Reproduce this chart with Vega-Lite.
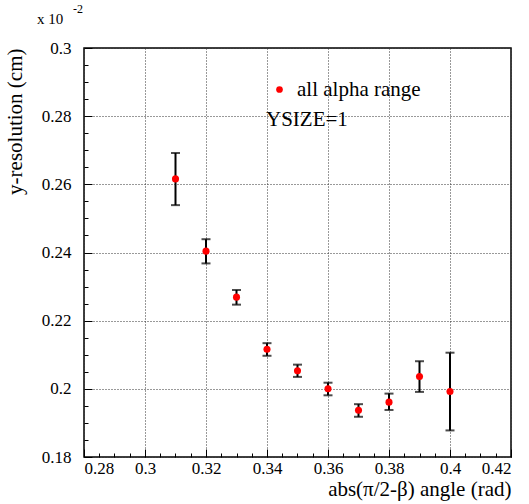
{
  "$schema": "https://vega.github.io/schema/vega-lite/v6.json",
  "width": 427,
  "height": 409,
  "autosize": "none",
  "padding": {"left": 84, "top": 48, "right": 18, "bottom": 47},
  "background": "white",
  "config": {
    "font": "Liberation Serif",
    "view": {"stroke": "black", "strokeWidth": 1.5},
    "style": {
      "guide-label": {"font": "Liberation Serif", "fill": "black"},
      "guide-title": {"font": "Liberation Serif", "fill": "black"}
    },
    "axis": {"labelFont": "Liberation Serif", "titleFont": "Liberation Serif"}
  },
  "title": {
    "text": "x 10",
    "subtitle": "\u2800\u2800\u2800\u2800-2",
    "anchor": "start",
    "frame": "group",
    "dx": -47,
    "font": "Liberation Serif",
    "fontSize": 15,
    "fontWeight": "normal",
    "color": "black",
    "subtitleFont": "Liberation Serif",
    "subtitleFontSize": 12,
    "subtitleColor": "black",
    "subtitlePadding": -23,
    "offset": 3
  },
  "data": {
    "values": [
      {"x": 0.31, "y": 0.2616, "lo": 0.2539, "hi": 0.2692, "series": "all alpha range"},
      {"x": 0.32, "y": 0.2404, "lo": 0.2368, "hi": 0.2439, "series": "all alpha range"},
      {"x": 0.33, "y": 0.2269, "lo": 0.2247, "hi": 0.2290, "series": "all alpha range"},
      {"x": 0.34, "y": 0.2116, "lo": 0.2097, "hi": 0.2134, "series": "all alpha range"},
      {"x": 0.35, "y": 0.2053, "lo": 0.2035, "hi": 0.2071, "series": "all alpha range"},
      {"x": 0.36, "y": 0.2000, "lo": 0.1981, "hi": 0.2018, "series": "all alpha range"},
      {"x": 0.37, "y": 0.1937, "lo": 0.1918, "hi": 0.1955, "series": "all alpha range"},
      {"x": 0.38, "y": 0.1961, "lo": 0.1938, "hi": 0.1986, "series": "all alpha range"},
      {"x": 0.39, "y": 0.2036, "lo": 0.1991, "hi": 0.2081, "series": "all alpha range"},
      {"x": 0.40, "y": 0.1992, "lo": 0.1878, "hi": 0.2106, "series": "all alpha range"}
    ]
  },
  "layer": [
    {
      "mark": {"type": "rule", "color": "black", "strokeWidth": 2},
      "encoding": {
        "x": {
          "field": "x", "type": "quantitative",
          "scale": {"domain": [0.28, 0.42], "nice": false, "zero": false},
          "axis": {
            "orient": "bottom",
            "offset": -4,
            "values": [0.285, 0.29, 0.295, 0.305, 0.31, 0.315, 0.325, 0.33, 0.335, 0.345, 0.35, 0.355, 0.365, 0.37, 0.375, 0.385, 0.39, 0.395, 0.405, 0.41, 0.415],
            "labels": false, "grid": false, "domain": false, "title": null,
            "tickSize": 4, "tickWidth": 1, "tickColor": "black"
          }
        },
        "y": {
          "field": "lo", "type": "quantitative",
          "scale": {"domain": [0.18, 0.3], "nice": false, "zero": false},
          "axis": {
            "orient": "left",
            "offset": -4,
            "values": [0.185, 0.19, 0.195, 0.205, 0.21, 0.215, 0.225, 0.23, 0.235, 0.245, 0.25, 0.255, 0.265, 0.27, 0.275, 0.285, 0.29, 0.295],
            "labels": false, "grid": false, "domain": false, "title": null,
            "tickSize": 4, "tickWidth": 1, "tickColor": "black"
          }
        },
        "y2": {"field": "hi"}
      }
    },
    {
      "mark": {"type": "tick", "orient": "horizontal", "size": 9, "thickness": 2, "color": "black"},
      "encoding": {
        "x": {"field": "x", "type": "quantitative", "axis": null},
        "y": {"field": "lo", "type": "quantitative", "axis": null}
      }
    },
    {
      "mark": {"type": "tick", "orient": "horizontal", "size": 9, "thickness": 2, "color": "black"},
      "encoding": {
        "x": {"field": "x", "type": "quantitative", "axis": null},
        "y": {"field": "hi", "type": "quantitative", "axis": null}
      }
    },
    {
      "mark": {"type": "circle", "size": 50, "opacity": 1},
      "encoding": {
        "x": {
          "field": "x", "type": "quantitative",
          "axis": {
            "orient": "bottom",
            "offset": -8,
            "values": [0.28, 0.3, 0.32, 0.34, 0.36, 0.38, 0.4, 0.42],
            "format": "~g",
            "labelFont": "Liberation Serif",
            "labelFontSize": 17,
            "labelColor": "black",
            "labelPadding": 3,
            "tickSize": 8, "tickWidth": 1, "tickColor": "black",
            "domain": false,
            "grid": true, "gridDash": [1, 2], "gridColor": "#333333", "gridWidth": 1,
            "title": "abs(π/2-β) angle (rad)",
            "titleFont": "Liberation Serif",
            "titleColor": "black",
            "titleFontSize": 21, "titleFontWeight": "normal",
            "titleAnchor": "end", "titleAlign": "right", "titlePadding": 2
          }
        },
        "y": {
          "field": "y", "type": "quantitative",
          "axis": {
            "orient": "left",
            "offset": -8,
            "values": [0.18, 0.2, 0.22, 0.24, 0.26, 0.28, 0.3],
            "format": "~g",
            "labelFont": "Liberation Serif",
            "labelFontSize": 17,
            "labelColor": "black",
            "labelPadding": 13,
            "tickSize": 8, "tickWidth": 1, "tickColor": "black",
            "domain": false,
            "grid": true, "gridDash": [1, 2], "gridColor": "#333333", "gridWidth": 1,
            "title": "y-resolution (cm)",
            "titleFont": "Liberation Serif",
            "titleColor": "black",
            "titleFontSize": 21, "titleFontWeight": "normal",
            "titleAnchor": "end", "titleAlign": "right", "titlePadding": 16
          }
        },
        "color": {
          "field": "series", "type": "nominal",
          "scale": {"range": ["#ff0000"]},
          "legend": {
            "orient": "none",
            "legendX": 182,
            "legendY": 31,
            "title": "YSIZE=1",
            "titleOrient": "bottom",
            "titleAnchor": "start",
            "titleFontSize": 21,
            "titleFontWeight": "normal",
            "titleFont": "Liberation Serif",
            "titleColor": "black",
            "titlePadding": 9,
            "labelFont": "Liberation Serif",
            "labelFontSize": 21,
            "labelColor": "black",
            "labelOffset": 7,
            "symbolType": "circle",
            "symbolSize": 45,
            "symbolOffset": 3,
            "symbolStrokeWidth": 0,
            "padding": 0
          }
        }
      }
    }
  ],
  "resolve": {"axis": {"x": "independent", "y": "independent"}}
}
